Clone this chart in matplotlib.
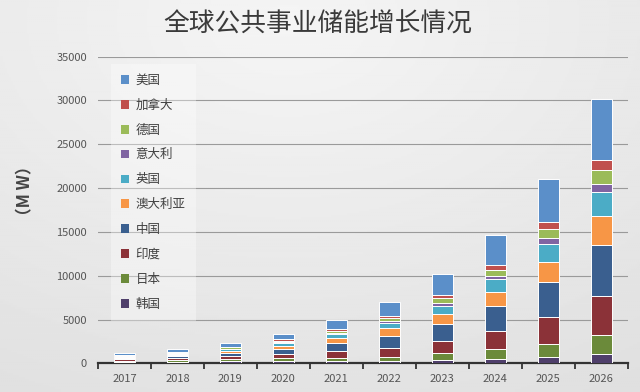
import numpy as np
import matplotlib
matplotlib.use("Agg")
import matplotlib.pyplot as plt
from matplotlib.patches import Patch

plt.rcParams['font.family'] = ['Noto Sans CJK SC', 'DejaVu Sans']

years = ['2017', '2018', '2019', '2020', '2021', '2022', '2023', '2024', '2025', '2026']

# stacking order: bottom -> top
series_names = ['韩国', '日本', '印度', '中国', '澳大利亚', '英国', '意大利', '德国', '加拿大', '美国']

korea     = [170, 200, 240, 250, 260, 260, 340, 530, 700, 1050]
japan     = [150, 200, 250, 320, 400, 500, 800, 1060, 1450, 2150]
india     = [120, 180, 300, 500, 760, 1020, 1400, 2080, 3140, 4470]
china     = [150, 250, 400, 600, 900, 1320, 1970, 2840, 4020, 5800]
australia = [80, 120, 200, 350, 560, 880, 1130, 1630, 2310, 3350]
uk        = [100, 150, 220, 300, 420, 640, 950, 1480, 1970, 2700]
italy     = [30, 50, 70, 100, 130, 190, 300, 380, 680, 1000]
germany   = [60, 90, 130, 180, 260, 380, 530, 680, 1060, 1500]
canada    = [40, 60, 90, 130, 170, 260, 420, 570, 830, 1200]
usa       = [250, 350, 450, 650, 1060, 1550, 2350, 3400, 4850, 6950]

series_values = [korea, japan, india, china, australia, uk, italy, germany, canada, usa]
colors = ['#4f3f6b', '#6b8a3a', '#8b3238', '#3a5f8f', '#f79646',
          '#4bacc6', '#8064a2', '#9bbb59', '#c0504d', '#5b8fc9']

fig = plt.figure(figsize=(6.4, 3.92), dpi=100)

# background gradient
bg = fig.add_axes([0, 0, 1, 1], zorder=-10)
yy, xx = np.mgrid[0:1:200j, 0:1:320j]
g = 0.96 - 0.075 * np.sqrt(((xx - 0.45) / 0.9) ** 2 + ((yy - 0.05) / 1.0) ** 2)
bg.imshow(g, cmap='gray', vmin=0, vmax=1, extent=[0, 1, 0, 1], aspect='auto', origin='upper')
bg.axis('off')

ax = fig.add_axes([0.153, 0.0732, 0.828, 0.7822])
ax.patch.set_alpha(0)

x = np.arange(len(years))
bottom = np.zeros(len(years))
for name, vals, c in zip(series_names, series_values, colors):
    ax.bar(x, vals, bottom=bottom, width=0.39, color=c, edgecolor='white', linewidth=0.7, zorder=3)
    bottom += np.array(vals)

ax.set_xlim(-0.5, len(years) - 0.5)
ax.set_ylim(0, 35000)
ax.set_yticks(np.arange(0, 35001, 5000))
ax.yaxis.grid(True, color='#9a9a9a', linewidth=0.8, zorder=0)
ax.set_axisbelow(True)
ax.set_xticks(x)
ax.set_xticklabels(years, fontsize=8, color='#555555')
ax.tick_params(axis='x', length=0, pad=8)
ax.set_xticks(np.arange(-0.5, len(years), 1.0), minor=True)
ax.tick_params(axis='x', which='minor', length=4, width=1.3, color='#333333', direction='out')
ax.tick_params(axis='y', length=0, labelsize=8, colors='#555555', pad=8)
for s in ['top', 'right', 'left']:
    ax.spines[s].set_visible(False)
ax.spines['bottom'].set_color('#333333')
ax.spines['bottom'].set_linewidth(1.6)

fig.text(0.04, 0.513, '（M W）', rotation=90, ha='center', va='center', fontsize=12,
         color='#444444', fontweight='bold')

fig.text(0.497, 0.936, '全球公共事业储能增长情况', ha='center', va='center',
         fontsize=18.5, color='#3a3a3a')

handles = [Patch(facecolor=c, edgecolor='none') for c in colors[::-1]]
leg = ax.legend(handles, series_names[::-1], loc='upper left', bbox_to_anchor=(0.012, 0.997),
                fontsize=9, frameon=True, handlelength=0.7, handleheight=0.7,
                handletextpad=0.5, labelspacing=0.95, borderpad=0.8, labelcolor='#404040')
leg.get_frame().set_facecolor('white')
leg.get_frame().set_alpha(0.35)
leg.get_frame().set_edgecolor('none')
leg.get_frame().set_boxstyle('square', pad=0.0)

fig.savefig('out.png', dpi=100)
